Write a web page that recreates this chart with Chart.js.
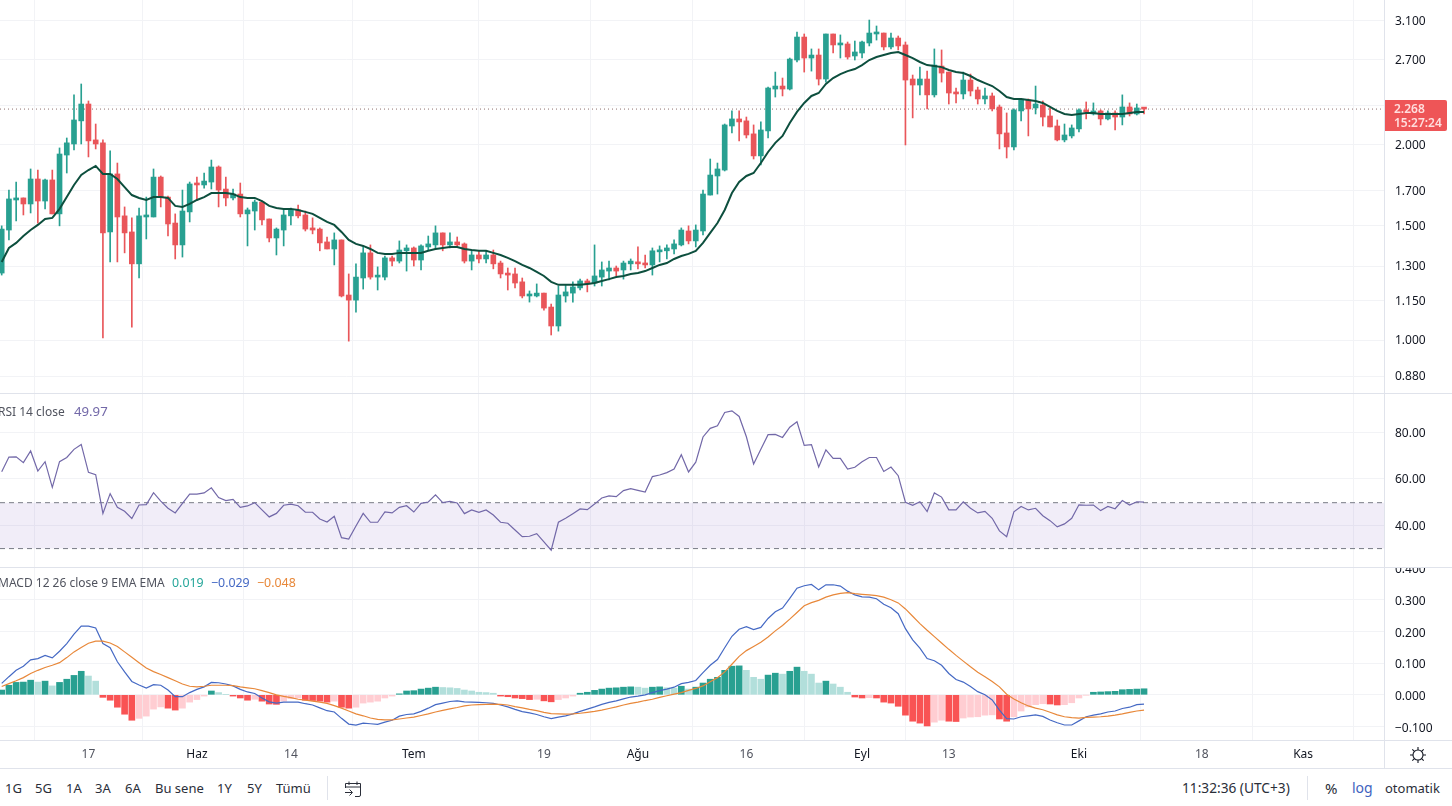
<!DOCTYPE html>
<html lang="tr"><head><meta charset="utf-8"><title>Chart</title>
<script src="https://cdn.jsdelivr.net/npm/chart.js@4/dist/chart.umd.min.js"></script>
<style>
html,body{margin:0;padding:0;background:#fff;width:1452px;height:806px;overflow:hidden;font-family:"Noto Sans",sans-serif;color:#131722}
.pane{position:absolute;left:0;width:1452px}
.line{position:absolute;background:#e0e3eb}
.t{position:absolute;white-space:nowrap;font-size:12.5px;line-height:16px}
.leg{color:#50535e;font-size:12px}
.leg span{font-size:13.2px;margin-left:3px}
.leg.m span{font-size:12.4px;margin-left:1px}
.bar{color:#2a2e39;font-size:13px;top:780px}
#tag{position:absolute;left:1385px;top:100px;width:62px;height:31px;background:#ee5557;border-radius:0 2px 2px 0;color:#ffdedd;font-size:12px;line-height:14px;text-align:left;padding:2px 0 0 9px;box-sizing:border-box;font-weight:600}
</style></head><body>
<div class="pane" style="top:0;height:393px"><canvas id="cMain"></canvas></div>
<div class="pane" style="top:394px;height:173px"><canvas id="cRsi"></canvas></div>
<div class="pane" style="top:567px;height:201px"><canvas id="cMacd"></canvas></div>
<div class="line" style="left:0;top:393px;width:1452px;height:1px"></div>
<div class="line" style="left:0;top:567px;width:1452px;height:1px"></div>
<div class="line" style="left:0;top:740px;width:1452px;height:1px"></div>
<div class="line" style="left:0;top:768px;width:1452px;height:1px"></div>
<div class="line" style="left:1384px;top:0;width:1px;height:768px"></div>
<div class="line" style="left:327px;top:776px;width:1px;height:24px"></div>
<div class="line" style="left:1307px;top:776px;width:1px;height:24px"></div>
<div id="tag"><div id="tagP"></div><div>15:27:24</div></div>
<div class="t leg" style="left:-2px;top:403px">RSI 14 close&nbsp;&nbsp;<span id="legRsi" style="color:#7268a8"></span></div>
<div class="t leg m" style="left:-2px;top:575px">MACD 12 26 close 9 EMA EMA&nbsp;&nbsp;<span style="color:#26a69a" id="legH"></span>&nbsp;&nbsp;<span style="color:#4569c4" id="legM"></span>&nbsp;&nbsp;<span style="color:#e8883a" id="legS"></span></div>
<div class="t bar" style="left:5px">1G</div><div class="t bar" style="left:35px">5G</div><div class="t bar" style="left:66px">1A</div>
<div class="t bar" style="left:95px">3A</div><div class="t bar" style="left:125px">6A</div><div class="t bar" style="left:155px">Bu sene</div>
<div class="t bar" style="left:217px">1Y</div><div class="t bar" style="left:247px">5Y</div><div class="t bar" style="left:276px">Tümü</div>
<div class="t bar" style="left:1182px;font-size:13.7px">11:32:36 (UTC+3)</div><div class="t bar" style="left:1325px;font-size:15px">%</div>
<div class="t bar" style="left:1352px;color:#3f63c0;font-size:14px">log</div><div class="t bar" style="left:1385px">otomatik</div>
<svg style="position:absolute;left:344px;top:780px" width="18" height="18" viewBox="0 0 18 18" fill="none" stroke="#2a2e39" stroke-width="1"><path d="M1.5 8V3.5h15V15a1.5 1.5 0 0 1-1.5 1.5h-4M1.5 7h15M5 1.5v3.5M13 1.5v3.5M1 12.5h7M5.5 9.5l3 3-3 3"/></svg>
<svg style="position:absolute;left:1409px;top:746px" width="18" height="18" viewBox="0 0 18 18" fill="none" stroke="#131722" stroke-width="1.1"><circle cx="9" cy="9" r="5"/><path d="M9 1v3M9 14v3M1 9h3M14 9h3M3.3 3.3l2.1 2.1M12.6 12.6l2.1 2.1M3.3 14.7l2.1-2.1M12.6 5.4l2.1-2.1"/></svg>
<script>
const gridIndex=[12,27,40,57,75,88,103,119,131,149,166,180];
const gridLabels=["17","Haz","14","Tem","19","Ağu","16","Eyl","13","Eki","18","Kas"];
const priceTicks=[3.1,2.7,2.3,2.0,1.7,1.5,1.3,1.15,1.0,0.88];
const rsiTicks=[80,60,40];
const macdTicks=[0.4,0.3,0.2,0.1,0,-0.1];
const rsiLevels=[49.7,30];
const opens=[1.268,1.477,1.643,1.655,1.620,1.770,1.637,1.764,1.564,1.927,
2.004,2.175,2.309,2.033,2.012,1.467,1.802,1.553,1.467,1.310,
1.547,1.547,1.782,1.660,1.514,1.401,1.575,1.739,1.733,1.751,
1.847,1.708,1.655,1.678,1.564,1.580,1.631,1.536,1.436,1.477,
1.553,1.586,1.558,1.488,1.482,1.416,1.381,1.426,1.173,1.152,
1.246,1.362,1.250,1.250,1.338,1.323,1.372,1.386,1.328,1.391,
1.401,1.462,1.401,1.416,1.406,1.323,1.352,1.333,1.352,1.314,
1.264,1.264,1.229,1.169,1.169,1.181,1.124,1.051,1.169,1.181,
1.203,1.233,1.224,1.250,1.277,1.291,1.282,1.310,1.319,1.314,
1.305,1.367,1.372,1.381,1.401,1.472,1.421,1.472,1.672,1.789,
1.827,2.136,2.190,2.175,2.077,1.921,2.099,2.435,2.461,2.435,
2.699,2.928,2.718,2.747,2.523,2.960,2.847,2.857,2.738,2.767,
2.867,2.960,2.970,2.827,2.918,2.847,2.523,2.470,2.523,2.385,
2.642,2.586,2.410,2.393,2.514,2.427,2.351,2.376,2.285,2.084,
1.983,2.253,2.342,2.277,2.301,2.213,2.136,2.033,2.062,2.114,
2.261,2.229,2.253,2.190,2.237,2.205,2.285,2.229,2.277];
const highs=[1.499,1.702,1.751,1.655,1.834,1.827,1.770,1.827,1.976,2.047,
2.385,2.479,2.334,2.151,2.033,1.955,1.873,1.603,1.542,1.597,
1.660,1.834,1.789,1.666,1.564,1.702,1.751,1.782,1.808,1.893,
1.854,1.782,1.708,1.745,1.597,1.643,1.637,1.536,1.488,1.586,
1.597,1.614,1.580,1.542,1.488,1.441,1.462,1.426,1.264,1.310,
1.391,1.401,1.296,1.347,1.347,1.421,1.401,1.391,1.401,1.446,
1.499,1.462,1.462,1.441,1.411,1.372,1.372,1.372,1.376,1.323,
1.291,1.291,1.246,1.190,1.220,1.181,1.136,1.211,1.216,1.229,
1.241,1.241,1.401,1.319,1.323,1.300,1.323,1.333,1.391,1.352,
1.386,1.396,1.401,1.426,1.488,1.499,1.504,1.702,1.900,1.873,
2.151,2.253,2.253,2.205,2.144,2.167,2.452,2.586,2.532,2.718,
2.981,2.960,2.807,2.807,2.960,2.960,2.950,2.877,2.887,2.887,
3.110,3.045,2.970,2.970,2.939,2.877,2.559,2.632,2.595,2.807,
2.797,2.586,2.444,2.586,2.568,2.452,2.444,2.401,2.301,2.237,
2.269,2.351,2.351,2.461,2.334,2.277,2.182,2.151,2.144,2.269,
2.326,2.318,2.261,2.253,2.253,2.385,2.318,2.309,2.277];
const lows=[1.259,1.426,1.525,1.558,1.569,1.514,1.592,1.564,1.499,1.808,
1.962,2.004,1.914,1.969,1.007,1.319,1.319,1.362,1.047,1.246,
1.431,1.547,1.603,1.446,1.333,1.342,1.520,1.643,1.714,1.708,
1.603,1.609,1.643,1.547,1.396,1.477,1.504,1.416,1.352,1.396,
1.504,1.542,1.472,1.457,1.372,1.381,1.305,1.165,0.996,1.104,
1.198,1.241,1.194,1.237,1.300,1.314,1.277,1.300,1.282,1.376,
1.381,1.372,1.386,1.396,1.314,1.282,1.314,1.314,1.287,1.246,
1.194,1.203,1.161,1.144,1.165,1.112,1.018,1.032,1.144,1.144,
1.194,1.186,1.211,1.211,1.237,1.255,1.241,1.282,1.287,1.291,
1.259,1.319,1.333,1.357,1.396,1.406,1.391,1.452,1.672,1.678,
1.821,2.084,2.026,2.047,1.900,1.860,2.047,2.367,2.376,2.427,
2.680,2.586,2.595,2.470,2.496,2.767,2.718,2.708,2.699,2.718,
2.837,2.897,2.797,2.807,2.797,1.997,2.198,2.385,2.269,2.367,
2.496,2.309,2.318,2.351,2.376,2.309,2.309,2.253,1.969,1.907,
1.962,2.175,2.062,2.229,2.136,2.129,2.026,2.019,2.047,2.091,
2.190,2.221,2.144,2.182,2.106,2.144,2.213,2.221,2.229];
const closes=[1.482,1.649,1.655,1.620,1.770,1.637,1.764,1.564,1.934,2.012,
2.182,2.309,2.026,2.004,1.462,1.802,1.547,1.462,1.310,1.553,
1.558,1.782,1.660,1.509,1.401,1.580,1.739,1.733,1.757,1.847,
1.702,1.655,1.678,1.564,1.586,1.631,1.531,1.436,1.482,1.558,
1.586,1.553,1.482,1.477,1.411,1.381,1.426,1.169,1.152,1.250,
1.362,1.250,1.255,1.338,1.323,1.376,1.386,1.328,1.396,1.406,
1.462,1.401,1.416,1.401,1.323,1.352,1.333,1.352,1.310,1.264,
1.259,1.224,1.169,1.173,1.181,1.120,1.051,1.173,1.186,1.207,
1.233,1.220,1.255,1.282,1.291,1.277,1.314,1.323,1.310,1.305,
1.372,1.376,1.386,1.406,1.477,1.421,1.477,1.678,1.795,1.834,
2.144,2.190,2.167,2.069,1.921,2.106,2.444,2.461,2.435,2.708,
2.928,2.718,2.747,2.523,2.960,2.847,2.857,2.728,2.777,2.877,
2.970,2.970,2.827,2.918,2.837,2.514,2.470,2.523,2.385,2.651,
2.577,2.401,2.393,2.514,2.418,2.351,2.376,2.269,2.077,1.983,
2.261,2.342,2.269,2.309,2.205,2.129,2.033,2.069,2.121,2.261,
2.245,2.253,2.190,2.237,2.205,2.285,2.229,2.277,2.268];
const ema=[1.319,1.386,1.411,1.446,1.477,1.504,1.536,1.542,1.592,1.660,
1.733,1.795,1.827,1.854,1.802,1.802,1.770,1.720,1.672,1.655,
1.643,1.660,1.660,1.655,1.609,1.603,1.620,1.643,1.660,1.684,
1.684,1.684,1.678,1.660,1.655,1.655,1.637,1.609,1.597,1.592,
1.592,1.586,1.575,1.564,1.542,1.520,1.504,1.467,1.426,1.406,
1.396,1.381,1.362,1.357,1.357,1.362,1.362,1.362,1.362,1.372,
1.381,1.386,1.391,1.391,1.381,1.376,1.372,1.372,1.362,1.352,
1.338,1.323,1.305,1.291,1.273,1.255,1.229,1.216,1.216,1.216,
1.216,1.220,1.224,1.233,1.241,1.250,1.255,1.264,1.268,1.277,
1.291,1.305,1.314,1.333,1.347,1.357,1.372,1.411,1.462,1.514,
1.586,1.684,1.751,1.789,1.808,1.873,1.948,2.012,2.062,2.159,
2.245,2.318,2.376,2.401,2.479,2.532,2.568,2.595,2.614,2.651,
2.699,2.728,2.747,2.767,2.777,2.747,2.718,2.680,2.651,2.642,
2.632,2.605,2.586,2.577,2.550,2.514,2.487,2.461,2.418,2.367,
2.351,2.351,2.342,2.334,2.318,2.285,2.253,2.229,2.221,2.229,
2.237,2.237,2.229,2.229,2.229,2.229,2.237,2.245,2.245];
const rsi=[63.0,69.3,69.4,66.9,71.9,63.3,67.3,56.3,67.3,69.1,
72.6,74.7,62.7,61.7,45.1,53.6,47.7,46.0,42.9,48.7,
48.9,54.0,50.4,47.3,45.3,49.4,53.4,53.4,53.9,56.1,
51.9,50.6,51.1,47.7,48.3,49.7,46.6,43.6,45.1,48.6,
49.1,48.4,45.6,45.6,42.7,41.4,43.9,34.7,34.1,39.7,
45.1,41.3,41.3,45.7,45.3,47.7,48.4,45.7,49.4,50.0,
53.1,49.7,50.3,49.6,45.0,46.6,45.6,46.6,44.4,41.3,
40.9,38.0,35.1,35.3,36.4,32.9,29.3,41.3,43.0,45.0,
47.0,46.7,49.1,51.7,52.6,52.3,54.9,55.7,55.0,54.3,
60.9,61.6,62.6,64.1,70.3,62.9,67.1,77.9,81.6,82.7,
88.4,89.1,86.7,78.0,66.3,72.6,78.9,79.0,77.7,82.1,
84.4,74.3,74.6,65.0,72.4,68.7,68.7,64.1,64.9,67.3,
69.1,69.1,63.1,65.0,61.3,49.9,48.6,50.1,45.9,53.9,
52.1,46.6,46.6,50.1,47.3,45.3,46.0,43.0,37.6,35.1,
45.8,48.1,46.6,47.3,44.1,42.0,39.3,40.6,43.0,48.8,
48.6,48.7,46.3,48.1,47.1,50.6,48.7,50.1,49.97];
const macdLine=[.036,.057,.077,.090,.110,.114,.124,.116,.137,.161,
.191,.216,.216,.210,.161,.148,.104,.072,.042,.031,
.021,.032,.030,.015,-.006,-.006,.007,.017,.025,.039,
.038,.034,.028,.017,.009,.004,-.010,-.022,-.026,-.023,
-.023,-.023,-.028,-.032,-.041,-.050,-.054,-.074,-.092,-.095,
-.089,-.091,-.093,-.086,-.080,-.067,-.062,-.060,-.052,-.042,
-.031,-.026,-.021,-.019,-.022,-.023,-.024,-.025,-.027,-.032,
-.038,-.046,-.053,-.057,-.062,-.069,-.075,-.070,-.066,-.060,
-.052,-.045,-.038,-.030,-.024,-.019,-.013,-.007,-.004,0,
.007,.013,.018,.024,.035,.039,.045,.070,.093,.111,
.148,.184,.206,.214,.205,.212,.240,.261,.273,.303,
.335,.343,.347,.330,.346,.346,.342,.326,.314,.308,
.307,.302,.285,.274,.255,.208,.173,.147,.114,.107,
.093,.067,.048,.040,.026,.010,0,-.016,-.048,-.075,
-.076,-.069,-.066,-.063,-.068,-.079,-.088,-.095,-.095,-.082,
-.069,-.064,-.060,-.054,-.051,-.043,-.039,-.031,-.029];
const signalLine=[.026,.035,.044,.054,.067,.077,.086,.093,.101,.117,
.135,.149,.162,.169,.169,.163,.152,.135,.118,.101,
.084,.073,.064,.054,.044,.034,.027,.025,.027,.030,
.030,.030,.029,.025,.022,.019,.013,.007,0,-.005,
-.009,-.014,-.017,-.020,-.023,-.027,-.034,-.042,-.051,-.060,
-.066,-.073,-.077,-.079,-.079,-.076,-.073,-.070,-.065,-.060,
-.054,-.049,-.044,-.040,-.035,-.032,-.031,-.030,-.029,-.030,
-.032,-.037,-.041,-.046,-.050,-.055,-.059,-.060,-.061,-.060,
-.058,-.055,-.052,-.048,-.043,-.038,-.032,-.027,-.023,-.018,
-.014,-.008,-.003,.002,.007,.014,.020,.028,.041,.054,
.072,.096,.121,.139,.152,.165,.182,.201,.218,.238,
.259,.280,.290,.297,.307,.314,.319,.321,.318,.316,
.314,.312,.307,.299,.289,.270,.247,.224,.203,.183,
.163,.143,.124,.106,.088,.071,.057,.042,.025,.002,
-.013,-.025,-.035,-.042,-.047,-.055,-.063,-.069,-.072,-.073,
-.071,-.070,-.069,-.067,-.064,-.060,-.055,-.051,-.048];
const hist=[.015,.030,.039,.040,.046,.040,.043,.028,.039,.049,
.061,.074,.059,.043,-.008,-.017,-.039,-.061,-.080,-.074,
-.067,-.045,-.038,-.042,-.048,-.042,-.023,-.015,-.004,.012,
.007,.001,-.004,-.010,-.017,-.014,-.020,-.029,-.030,-.020,
-.012,-.010,-.017,-.018,-.020,-.023,-.020,-.039,-.042,-.039,
-.026,-.023,-.020,-.010,-.004,.003,.012,.013,.018,.021,
.024,.023,.022,.020,.015,.012,.008,.007,.005,-.004,
-.006,-.010,-.012,-.015,-.014,-.019,-.022,-.015,-.010,-.004,
.005,.008,.014,.018,.021,.022,.024,.025,.024,.021,
.024,.025,.022,.021,.027,.018,.024,.037,.049,.055,
.077,.090,.091,.077,.055,.049,.062,.068,.065,.074,
.087,.074,.065,.037,.043,.034,.024,.008,-.007,-.010,
-.009,-.010,-.023,-.026,-.036,-.064,-.083,-.089,-.098,-.086,
-.080,-.083,-.084,-.073,-.070,-.069,-.064,-.063,-.076,-.083,
-.069,-.051,-.038,-.031,-.028,-.029,-.032,-.031,-.025,-.010,
-.001,.008,.009,.010,.011,.016,.017,.018,.019];

const X_MIN=-0.235, X_MAX=191.33;
const FONT='"Noto Sans", sans-serif';
const GRID='#f2f3f6';
const GREEN='#28a091', RED='#e9565a';
Chart.defaults.font.family=FONT;

function xScale(showLabels){
  return {type:'linear',min:X_MIN,max:X_MAX,offset:false,
    afterBuildTicks(s){s.ticks=gridIndex.map(v=>({value:v}));},
    afterFit(s){s.height=showLabels?28:0;s.paddingLeft=0;s.paddingRight=0;},
    grid:{color:GRID,lineWidth:1,drawTicks:false},border:{display:false},
    ticks:{display:showLabels,autoSkip:false,maxRotation:0,minRotation:0,padding:7,
      font:{size:12},
      color:c=>isNaN(+gridLabels[gridIndex.indexOf(c.tick.value)])?'#131722':'#50535e',
      callback:v=>gridLabels[gridIndex.indexOf(v)]}};
}
function yScale(type,min,max,vals,dec){
  return {type,position:'right',min,max,
    afterBuildTicks(s){s.ticks=vals.map(v=>({value:v}));},
    afterFit(s){s.width=67;s.paddingTop=0;s.paddingBottom=0;},
    afterUpdate(s){
      const g=s.getLabelItems;
      s.getLabelItems=function(a){
        const cached=this._labelItems;
        const items=g.call(this,a);
        if(!cached) items.forEach(i=>{i.options.translation[1]+=1;});
        return items;
      };
    },
    grid:{color:GRID,lineWidth:1,drawTicks:false},border:{display:false},
    ticks:{autoSkip:false,padding:10,color:'#131722',font:{size:12},
      callback:v=>{const t=(+v).toFixed(dec);return v<0?'−'+t.slice(1):t;}}};
}
function baseOpts(x,y){
  return {responsive:false,animation:false,events:[],devicePixelRatio:1,
    layout:{padding:0},plugins:{legend:{display:false},tooltip:{enabled:false}},scales:{x,y}};
}
function make(id,h,datasets,x,y){
  const c=document.getElementById(id);c.width=1452;c.height=h;c.style.width='1452px';c.style.height=h+'px';c.style.display='block';
  return new Chart(c,{type:'bar',data:{datasets},options:baseOpts(x,y)});
}
const pts=a=>a.map((v,i)=>({x:i,y:v}));
const candleColors=closes.map((c,i)=>c>=opens[i]?GREEN:RED);
const last=closes[closes.length-1];

make('cMain',393,[
  {type:'line',data:[{x:X_MIN,y:last},{x:X_MAX,y:last}],borderColor:'#8e6e6c',borderWidth:1,borderDash:[1,3],pointRadius:0,order:3},
  {type:'line',data:pts(ema),borderColor:'#0d4f3e',borderWidth:2,pointRadius:0,tension:0,order:0},
  {data:lows.map((l,i)=>({x:i,y:[l,highs[i]]})),backgroundColor:candleColors,barThickness:1,grouped:false,order:2},
  {data:opens.map((o,i)=>({x:i,y:[o,closes[i]]})),backgroundColor:candleColors,barThickness:5,minBarLength:2,grouped:false,order:1}
],xScale(false),yScale('logarithmic',0.8287,3.339,priceTicks,3));

const bandX=[X_MIN,X_MAX];
make('cRsi',173,[
  {type:'line',data:bandX.map(x=>({x,y:rsiLevels[0]})),borderColor:'#787b86',borderWidth:1,borderDash:[5,4],pointRadius:0,fill:'+1',backgroundColor:'rgba(126,87,194,0.11)',order:3},
  {type:'line',data:bandX.map(x=>({x,y:rsiLevels[1]})),borderColor:'#787b86',borderWidth:1,borderDash:[5,4],pointRadius:0,order:2},
  {type:'line',data:pts(rsi),borderColor:'#7268a8',borderWidth:1.2,pointRadius:0,tension:0,order:0}
],xScale(false),yScale('linear',22.1,96.35,rsiTicks,2));

const histColors=hist.map((h,i)=>{const p=i?hist[i-1]:0;return h>=0?(h>=p?GREEN:'#b2dfdb'):(h<p?'#f95354':'#ffcdd2');});
make('cMacd',201,[
  {type:'line',data:pts(macdLine),borderColor:'#4569c4',borderWidth:1.2,pointRadius:0,tension:0,order:1},
  {type:'line',data:pts(signalLine),borderColor:'#e8883a',borderWidth:1.2,pointRadius:0,tension:0,order:0},
  {data:pts(hist),backgroundColor:histColors,barThickness:6,grouped:false,order:2}
],xScale(true),yScale('linear',-0.1421,0.4019,macdTicks,3));

const fmt=v=>(v<0?'−':'')+Math.abs(v).toFixed(3);
document.getElementById('tagP').textContent=last.toFixed(3);
document.getElementById('legRsi').textContent=rsi[rsi.length-1].toFixed(2);
document.getElementById('legH').textContent=fmt(hist[hist.length-1]);
document.getElementById('legM').textContent=fmt(macdLine[macdLine.length-1]);
document.getElementById('legS').textContent=fmt(signalLine[signalLine.length-1]);
</script>
</body></html>
